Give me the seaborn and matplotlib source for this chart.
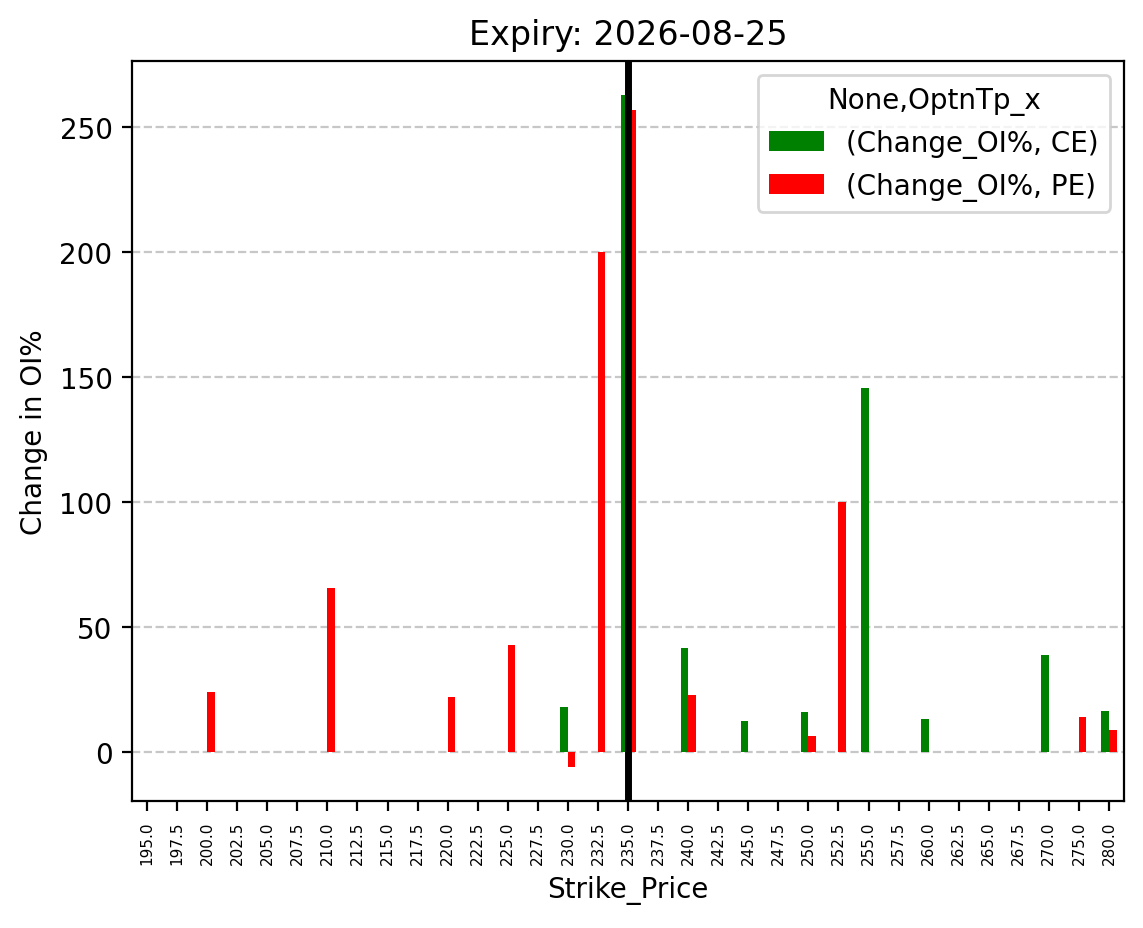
import numpy as np
import pandas as pd
import matplotlib
matplotlib.use("Agg")
import matplotlib.pyplot as plt
import seaborn as sns

# strike prices (272.5 and 277.5 are not listed)
strikes = [195.0, 197.5, 200.0, 202.5, 205.0, 207.5, 210.0, 212.5, 215.0, 217.5,
           220.0, 222.5, 225.0, 227.5, 230.0, 232.5, 235.0, 237.5, 240.0, 242.5,
           245.0, 247.5, 250.0, 252.5, 255.0, 257.5, 260.0, 262.5, 265.0, 267.5,
           270.0, 275.0, 280.0]
nan = np.nan
# change in OI% for calls (CE) and puts (PE)
ce_change = [nan, nan, nan, nan, nan, nan, nan, nan, nan, nan,
             nan, nan, nan, nan, 18.0, nan, 263.0, nan, 41.6, nan,
             12.4, nan, 16.0, nan, 145.6, nan, 13.2, nan, nan, nan,
             38.8, nan, 16.4]
pe_change = [nan, nan, 24.0, nan, nan, nan, 65.6, nan, nan, nan,
             22.0, nan, 42.8, nan, -6.0, 200.0, 257.0, nan, 22.8, nan,
             nan, nan, 6.4, 100.0, nan, nan, nan, nan, nan, nan,
             nan, 14.0, 8.8]
spot_strike = 235.0
expiry = "2026-08-25"

labels = [f"{s:.1f}" for s in strikes]
df = pd.DataFrame({
    "Strike_Price": labels * 2,
    "Change": ce_change + pe_change,
    "series": ["(Change_OI%, CE)"] * len(strikes) + ["(Change_OI%, PE)"] * len(strikes),
})

fig = plt.figure(figsize=(1143 / 200, 929 / 200), dpi=200)
ax = fig.add_axes([0.1155, 0.1367, 0.8679, 0.7966])

sns.barplot(data=df, x="Strike_Price", y="Change", hue="series", order=labels,
            hue_order=["(Change_OI%, CE)", "(Change_OI%, PE)"],
            palette=["green", "red"], saturation=1, width=0.5, linewidth=0,
            errorbar=None, ax=ax)

ax.axvline(labels.index(f"{spot_strike:.1f}"), color="black", linewidth=2.5)

ax.set_xlim(-0.5, len(strikes) - 0.5)
ax.set_title(f"Expiry: {expiry}")
ax.set_xlabel("Strike_Price")
ax.set_ylabel("Change in OI%")
ax.tick_params(axis="x", labelrotation=90, labelsize=5.5)
ax.grid(axis="y", linestyle="--", alpha=0.7)
ax.set_axisbelow(True)

handles, lbls = ax.get_legend_handles_labels()
ax.legend(handles, lbls, title="None,OptnTp_x", loc="upper right")

fig.savefig("out.png", dpi=200)
